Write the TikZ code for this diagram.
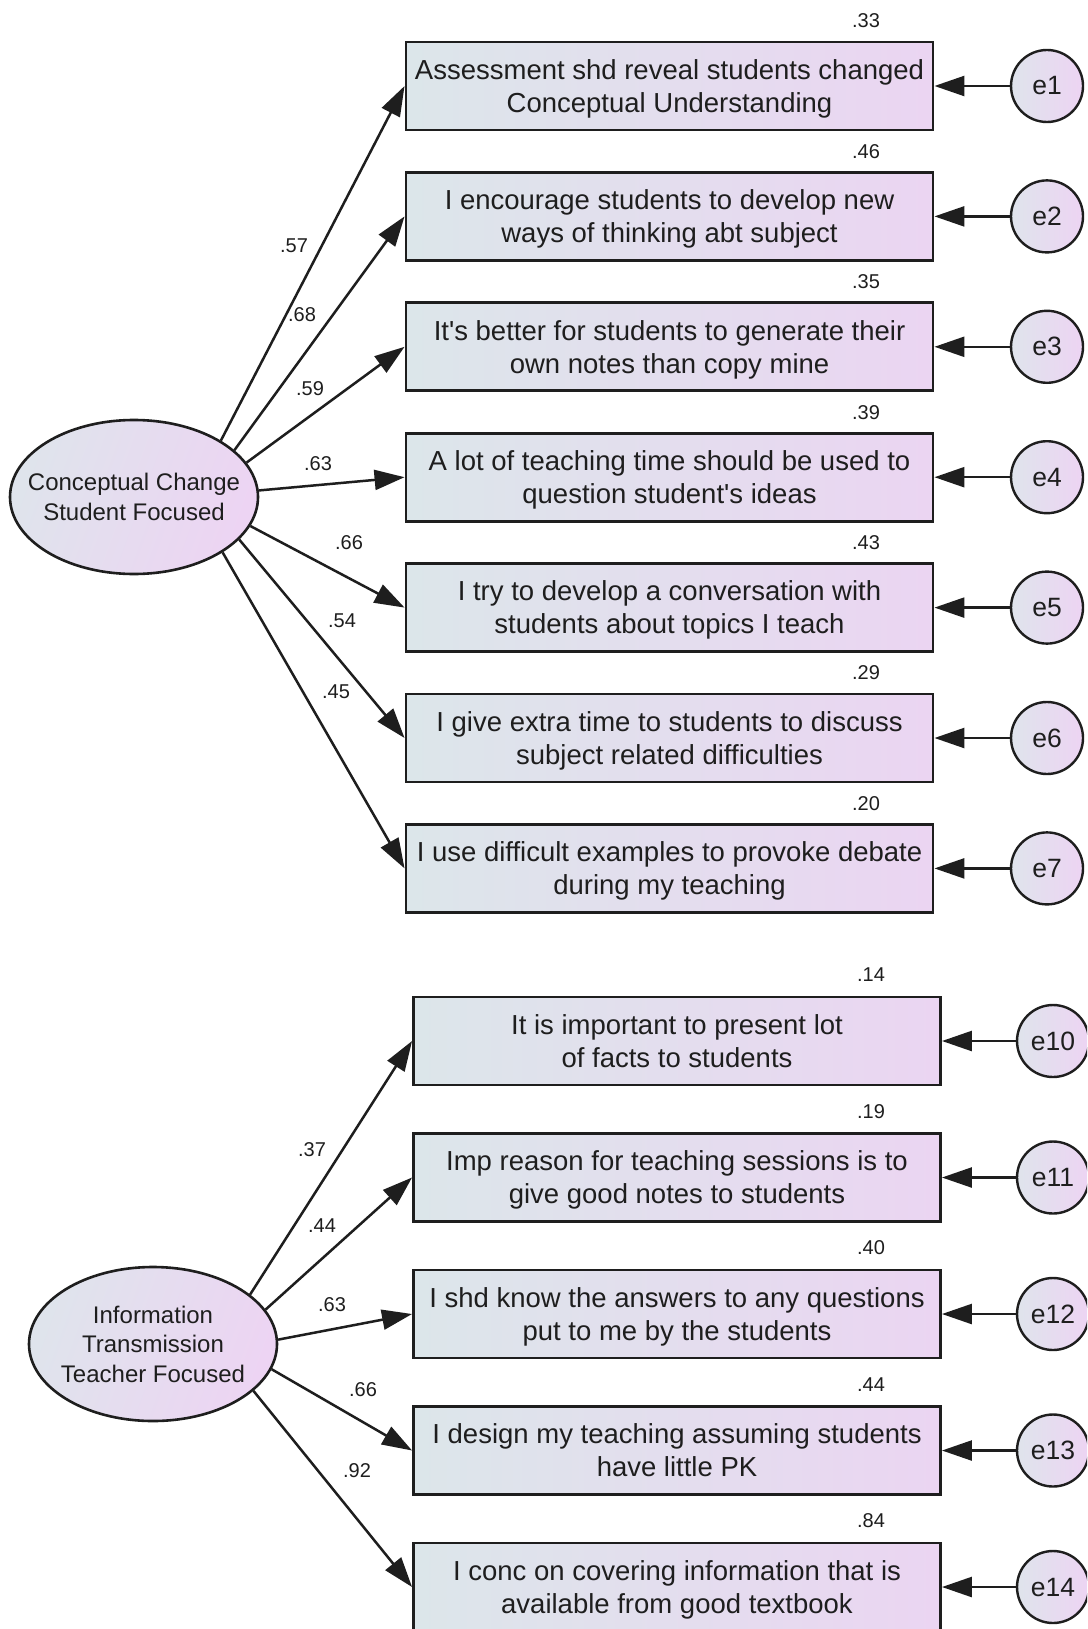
\documentclass[tikz,border=0pt]{standalone}
\usepackage{fontspec}
\setmainfont{Liberation Sans}
\usetikzlibrary{arrows.meta,shapes.geometric}
\definecolor{boxL}{HTML}{DCE6EA}
\definecolor{boxR}{HTML}{EBD5F2}
\definecolor{latL}{HTML}{DFE4EC}
\definecolor{latR}{HTML}{EDD4F3}
\definecolor{ink}{HTML}{1E1E1E}
% two-line item text with fixed vertical extent
\newcommand{\itemtext}[2]{\rule{0pt}{26pt}#1\\#2\rule[-6.5pt]{0pt}{0pt}}

\begin{document}
\begin{tikzpicture}[x=1pt,y=-1pt,
  obs/.style={rectangle, draw=ink, line width=2.9pt, minimum width=527pt,
    minimum height=88pt, inner sep=0pt, left color=boxL, right color=boxR,
    align=center, text=ink, font=\fontsize{27.5}{33}\selectfont},
  lat/.style={ellipse, draw=ink, line width=2.6pt, minimum width=248pt,
    minimum height=154pt, inner sep=0pt, left color=latL, right color=latR,
    shading angle=70},
  lattext/.style={align=center, inner sep=0pt, text=ink,
    font=\fontsize{24}{29.5}\selectfont},
  err/.style={circle, draw=ink, line width=2.4pt, minimum size=72pt,
    inner sep=0pt, left color=latL, right color=latR, text=ink,
    font=\fontsize{26.5}{30}\selectfont},
  link/.style={draw=ink, line width=2.5pt, -{Triangle[length=30pt,width=20pt]}},
  coef/.style={inner sep=0pt, text=ink, font=\fontsize{20}{22}\selectfont}]

\fill[white] (0,0) rectangle (1087,1629);
\clip (0,0) rectangle (1087,1629);

% ---- first factor ----
\node[lat] (cc) at (134,497) {};
\node[lattext] (cct) at (cc.center) {Conceptual Change\\Student Focused};

\node[obs] (b1) at (669.5,86)    {\itemtext{Assessment shd reveal students changed}{Conceptual Understanding}};
\node[obs] (b2) at (669.5,216.4) {\itemtext{I encourage students to develop new}{ways of thinking abt subject}};
\node[obs] (b3) at (669.5,346.8) {\itemtext{It\textquotesingle s better for students to generate their}{own notes than copy mine}};
\node[obs] (b4) at (669.5,477.2) {\itemtext{A lot of teaching time should be used to}{question student\textquotesingle s ideas}};
\node[obs] (b5) at (669.5,607.6) {\itemtext{I try to develop a conversation with}{students about topics I teach}};
\node[obs] (b6) at (669.5,738)   {\itemtext{I give extra time to students to discuss}{subject related difficulties}};
\node[obs] (b7) at (669.5,868.4) {\itemtext{I use difficult examples to provoke debate}{during my teaching}};

\foreach \i/\y in {1/86,2/216.4,3/346.8,4/477.2,5/607.6,6/738,7/868.4}{
  \node[err] (e\i) at (1047,\y) {e\i};
  \draw[link] (e\i) -- (b\i.east);
}

\draw[link] (cc.33)  -- (b1.west);
\draw[link] (cc.25)  -- (b2.west);
\draw[link] (cc.17)  -- (b3.west);
\draw[link] (cc.3)   -- (b4.west);
\draw[link] (cc.-14) -- (b5.west);
\draw[link] (cc.-22) -- (b6.west);
\draw[link] (cc.-32) -- (b7.west);

\node[coef] (l1) at (294,246) {.57};
\node[coef] (l2) at (302,315) {.68};
\node[coef] (l3) at (310,389) {.59};
\node[coef] (l4) at (318,464) {.63};
\node[coef] (l5) at (349,543) {.66};
\node[coef] (l6) at (342,621) {.54};
\node[coef] (l7) at (336,692) {.45};

\node[coef] (r1) at (866,21)    {.33};
\node[coef] (r2) at (866,151.4) {.46};
\node[coef] (r3) at (866,281.8) {.35};
\node[coef] (r4) at (866,412.2) {.39};
\node[coef] (r5) at (866,542.6) {.43};
\node[coef] (r6) at (866,673)   {.29};
\node[coef] (r7) at (866,803.4) {.20};

% ---- second factor ----
\node[lat] (it) at (153,1344) {};
\node[lattext] (itt) at (it.center) {Information\\Transmission\\Teacher Focused};

\node[obs] (c1) at (677,1041)   {\itemtext{It is important to present lot}{of facts to students}};
\node[obs] (c2) at (677,1177.5) {\itemtext{Imp reason for teaching sessions is to}{give good notes to students}};
\node[obs] (c3) at (677,1314)   {\itemtext{I shd know the answers to any questions}{put to me by the students}};
\node[obs] (c4) at (677,1450.5) {\itemtext{I design my teaching assuming students}{have little PK}};
\node[obs] (c5) at (677,1587)   {\itemtext{I conc on covering information that is}{available from good textbook}};

\foreach \i/\n/\y in {1/10/1041,2/11/1177.5,3/12/1314,4/13/1450.5,5/14/1587}{
  \node[err] (f\i) at (1053,\y) {e\n};
  \draw[link] (f\i) -- (c\i.east);
}

\draw[link] (it.27)  -- (c1.west);
\draw[link] (it.17)  -- (c2.west);
\draw[link] (it.2)   -- (c3.west);
\draw[link] (it.-12) -- (c4.west);
\draw[link] (it.-25) -- (c5.west);

\node[coef] (m1) at (312,1150) {.37};
\node[coef] (m2) at (322,1226) {.44};
\node[coef] (m3) at (332,1305) {.63};
\node[coef] (m4) at (363,1390) {.66};
\node[coef] (m5) at (357,1471) {.92};

\node[coef] (s1) at (871,975)    {.14};
\node[coef] (s2) at (871,1111.5) {.19};
\node[coef] (s3) at (871,1248)   {.40};
\node[coef] (s4) at (871,1384.5) {.44};
\node[coef] (s5) at (871,1521)   {.84};
\end{tikzpicture}
\end{document}
